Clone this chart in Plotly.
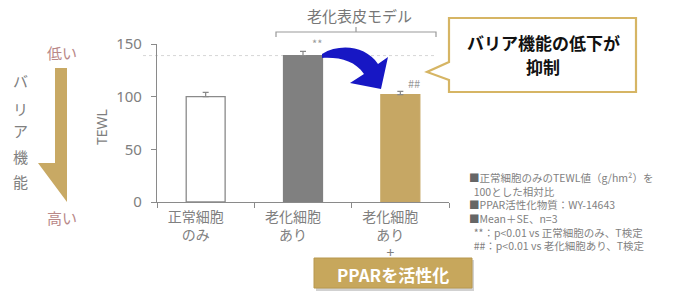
import plotly.graph_objects as go

# ---- data ----
categories = ["正常細胞<br>のみ", "老化細胞<br>あり", "老化細胞<br>あり<br>+"]
tewl_values = [100, 139, 102]
tewl_se = [4, 4, 3]
bar_colors = ["#ffffff", "#808080", "#c6a764"]
bar_line_colors = ["#8a8a8a", "#808080", "#c6a764"]
y_ticks = [0, 50, 100, 150]
sig_marks = ["", "**", "##"]
note_lines = [
    "<span style='color:#666666'>■</span>正常細胞のみのTEWL値（g/hm²）を",
    "\u00a0\u00a0100とした相対比",
    "<span style='color:#666666'>■</span>PPAR活性化物質：WY-14643",
    "<span style='color:#666666'>■</span>Mean＋SE、n=3",
    "\u00a0\u00a0**：p<0.01 vs 正常細胞のみ、T検定",
    "\u00a0\u00a0##：p<0.01 vs 老化細胞あり、T検定",
]
ref_line_value = 139

W, H = 700, 305
L, R, T, B = 157, 449, 44, 202  # plot area in px
FONT = "Noto Sans CJK JP, Noto Sans, sans-serif"
GRAY = "#7f7f7f"


def px(x):
    return (x - L) / (R - L)


def py(y):
    return (B - y) / (B - T)


def path(points, close=True):
    s = ""
    for i, (x, y) in enumerate(points):
        s += ("M" if i == 0 else "L") + f"{px(x):.5f},{py(y):.5f} "
    return s + ("Z" if close else "")


fig = go.Figure()
fig.add_trace(go.Bar(
    x=categories, y=tewl_values,
    marker=dict(color=bar_colors, line=dict(color=bar_line_colors, width=1.3)),
    width=0.4,
    error_y=dict(type="data", symmetric=False, array=tewl_se,
                 arrayminus=[0] * len(tewl_se), color="#888888",
                 thickness=1.2, width=3),
    showlegend=False,
))

shapes = []
# dotted reference line
shapes.append(dict(type="line", xref="paper", yref="y", x0=px(143), x1=px(435),
                   y0=ref_line_value, y1=ref_line_value,
                   line=dict(color="#d6d6d6", width=1, dash="dot"), layer="below"))
# bracket
shapes.append(dict(type="path", xref="paper", yref="paper",
                   path=path([(276, 37), (276, 32), (436, 32), (436, 37)], close=False),
                   line=dict(color="#999999", width=1.2)))
shapes.append(dict(type="line", xref="paper", yref="paper",
                   x0=px(356), x1=px(356), y0=py(32), y1=py(27),
                   line=dict(color="#999999", width=1.2)))
# callout box
shapes.append(dict(type="path", xref="paper", yref="paper",
                   path=path([(449, 18), (636, 18), (636, 92), (449, 92), (449, 80),
                              (427, 72), (449, 62)]),
                   line=dict(color="#d6b564", width=2.2), fillcolor="#ffffff"))
# gold half arrow
shapes.append(dict(type="path", xref="paper", yref="paper",
                   path=path([(55, 68), (67, 68), (67, 202), (38, 163), (55, 163)]),
                   line=dict(width=0), fillcolor="#c8a964"))


# blue curved arrow
def bez(p1, p2, p3):
    return (f"C{px(p1[0]):.5f},{py(p1[1]):.5f} {px(p2[0]):.5f},{py(p2[1]):.5f} "
            f"{px(p3[0]):.5f},{py(p3[1]):.5f} ")


blue_path = (f"M{px(322):.5f},{py(54):.5f} "
             + bez((340, 43), (366, 46), (378, 64))
             + f"L{px(388):.5f},{py(57):.5f} L{px(381):.5f},{py(89):.5f} "
             + f"L{px(350):.5f},{py(83):.5f} L{px(364):.5f},{py(74):.5f} "
             + bez((355, 61), (340, 57), (322, 58)) + "Z")
shapes.append(dict(type="path", xref="paper", yref="paper", path=blue_path,
                   line=dict(width=0), fillcolor="#1717c4"))
# PPAR box shadow + box
shapes.append(dict(type="rect", xref="paper", yref="paper",
                   x0=px(316), x1=px(474), y0=py(260), y1=py(291),
                   line=dict(width=0), fillcolor="rgba(0,0,0,0.18)"))
shapes.append(dict(type="rect", xref="paper", yref="paper",
                   x0=px(314), x1=px(472), y0=py(258), y1=py(288),
                   line=dict(color="#b8984e", width=1), fillcolor="#c7a75c"))

ann = []


def text(x, y, s, size, color=GRAY, bold=False, xanchor="center", yanchor="middle"):
    ann.append(dict(x=px(x), y=py(y), xref="paper", yref="paper",
                    text=(f"<b>{s}</b>" if bold else s),
                    showarrow=False, xanchor=xanchor, yanchor=yanchor, align="left",
                    font=dict(family=FONT, size=size, color=color)))


text(359, 16, "老化表皮モデル", 15, "#777777")
text(543, 43, "バリア機能の低下が", 17, "#111111", bold=True)
text(543, 66, "抑制", 17, "#111111", bold=True)
text(393, 274, "PPARを活性化", 17, "#ffffff", bold=True)
text(62, 53, "低い", 15, "#b98888")
text(62, 217, "高い", 15, "#b98888")
for ch, yy in zip("バリア機能", [80, 108, 130, 156, 181]):
    text(20, yy, ch, 15, "#808080")
ann.append(dict(x=px(101), y=py(127), xref="paper", yref="paper", text="TEWL",
                showarrow=False, textangle=-90, xanchor="center", yanchor="middle",
                font=dict(family="Noto Sans, sans-serif", size=14, color=GRAY)))
# significance marks
for cat, v, e, m in zip(categories, tewl_values, tewl_se, sig_marks):
    if m:
        ann.append(dict(x=cat, y=v + e, xref="x", yref="y", text=m, showarrow=False,
                        xshift=14, yshift=8, font=dict(family=FONT, size=11, color="#999999")))
# notes block
text(467, 168, "<br>".join(note_lines), 10.5, "#7f7f7f", xanchor="left", yanchor="top")

fig.update_layout(
    width=W, height=H,
    margin=dict(l=L, r=W - R, t=T, b=H - B, pad=0),
    plot_bgcolor="#ffffff", paper_bgcolor="#ffffff",
    shapes=shapes, annotations=ann,
    xaxis=dict(showline=True, linecolor="#8a8a8a", linewidth=1.2, ticks="outside",
               tickson="boundaries", ticklen=5, tickcolor="#8a8a8a", showgrid=False,
               tickfont=dict(family=FONT, size=14, color="#808080"),
               ticklabelshift=-10, ticklabelstandoff=2),
    yaxis=dict(range=[0, 150], tickvals=y_ticks, showline=True, linecolor="#8a8a8a",
               linewidth=1.2, ticks="outside", ticklen=5, tickcolor="#8a8a8a",
               showgrid=False, zeroline=False,
               tickfont=dict(family="Noto Sans, sans-serif", size=15, color="#808080"),
               ticklabelstandoff=6),
)

fig.write_html("out.html")
